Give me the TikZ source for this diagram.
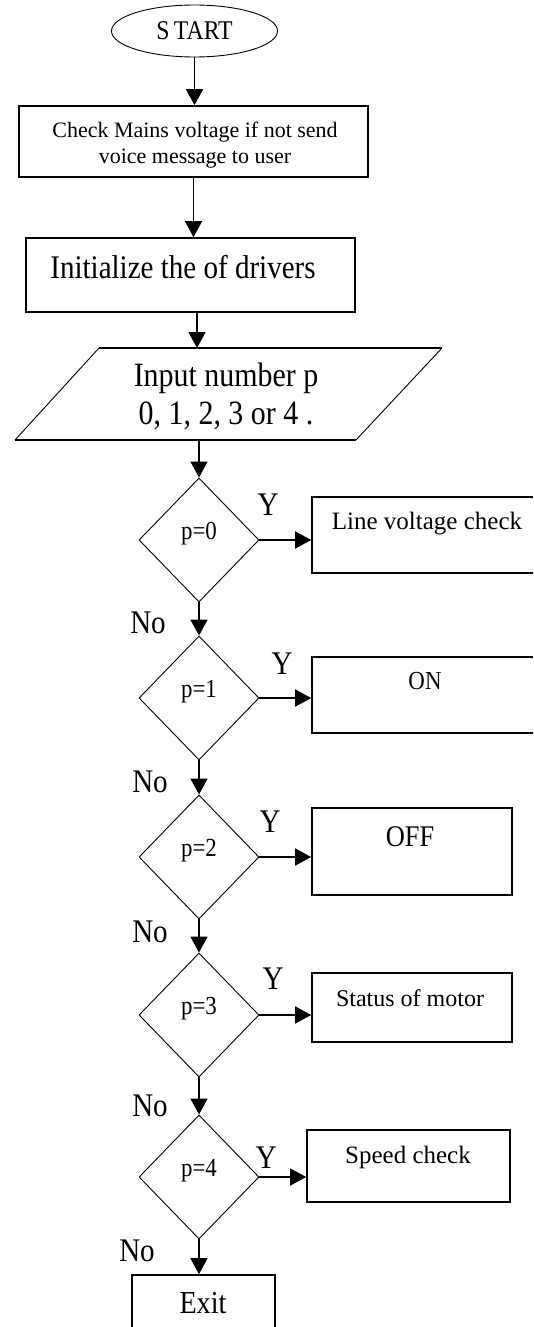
\documentclass[tikz,border=0pt]{standalone}
\usepackage{fontspec}
\setmainfont{Liberation Serif}
\newfontfamily\narrowserif{Liberation Serif}[FakeStretch=0.88]
\usetikzlibrary{shapes.geometric,arrows.meta}

\tikzset{
  flow/.style={-{Triangle[width=17pt,length=16pt]}, line width=1.6pt},
  procbox/.style={draw, line width=1.6pt, inner sep=0pt, anchor=center},
  decision/.style={draw, diamond, line width=0.9pt, inner sep=0pt,
    minimum width=120pt, minimum height=124pt, text depth=18pt,
    font=\narrowserif\fontsize{26}{30}\selectfont},
  lbl/.style={inner sep=0pt, anchor=center},
  big/.style={font=\narrowserif\fontsize{33}{38}\selectfont},
  mid/.style={font=\fontsize{24}{28}\selectfont},
}

\begin{document}
\begin{tikzpicture}[x=1pt, y=-1pt]
  \clip (0,0) rectangle (533,1327);
  \fill[white] (0,0) rectangle (533,1327);

  % terminal
  \node[draw, ellipse, line width=0.9pt, minimum width=166pt, minimum height=52pt,
        inner sep=0pt, font=\narrowserif\fontsize{27}{30}\selectfont] (start) at (194.5,31) {S\,TART};

  % mains check
  \node[procbox, minimum width=349pt, minimum height=71pt] (check) at (193.5,141.5) {};
  \node[lbl, align=center, font=\fontsize{22}{26}\selectfont] (checktxt) at (195,145)
    {Check Mains voltage if not send\\voice message to user};

  % driver initialisation
  \node[procbox, minimum width=329pt, minimum height=74pt] (init) at (190.5,275) {};
  \node[lbl, big] (inittxt) at (183,267) {Initialize the of drivers};

  % input (parallelogram)
  \coordinate (pin) at (197,348);
  \coordinate (pout) at (199,440);
  \draw[line width=0.9pt] (15,440) -- (99,348);
  \draw[line width=0.9pt] (442,348) -- (356,440);
  \draw[line width=1.6pt] (99,348) -- (442,348);
  \draw[line width=1.6pt] (15,440) -- (356,440);
  \node[lbl, align=center, font=\narrowserif\fontsize{34}{38}\selectfont] (input) at (226,396)
    {Input number p\\0, 1, 2, 3 or 4 .};

  % decisions
  \node[decision] (p0) at (199,540) {p=0};
  \node[decision] (p1) at (199,698) {p=1};
  \node[decision] (p2) at (199,857) {p=2};
  \node[decision] (p3) at (199,1015) {p=3};
  \node[decision] (p4) at (199,1177) {p=4};

  % actions
  \node[procbox, minimum width=233pt, minimum height=76pt] (lv) at (428.5,535) {};
  \node[lbl, font=\fontsize{25}{28}\selectfont] (lvtxt) at (427,524) {Line voltage check};
  \node[procbox, minimum width=233pt, minimum height=76pt] (on) at (428.5,695) {};
  \node[lbl, font=\narrowserif\fontsize{26}{30}\selectfont] (ontxt) at (425,681) {ON};
  \node[procbox, minimum width=200pt, minimum height=87pt] (off) at (412,851.5) {};
  \node[lbl, font=\narrowserif\fontsize{30}{34}\selectfont] (offtxt) at (410,837) {OFF};
  \node[procbox, minimum width=200pt, minimum height=69pt] (status) at (412,1007.5) {};
  \node[lbl, mid] (statustxt) at (410,998) {Status of motor};
  \node[procbox, minimum width=203pt, minimum height=72pt] (speed) at (408.5,1166) {};
  \node[lbl, font=\fontsize{25}{28}\selectfont] (speedtxt) at (408,1157) {Speed check};
  \node[procbox, minimum width=143pt, minimum height=70pt] (exit) at (203.5,1310) {};
  \node[lbl, font=\narrowserif\fontsize{32}{36}\selectfont] (exittxt) at (203,1303) {Exit};

  % main flow
  \draw[flow] (start.south) -- (start.south |- check.north);
  \draw[flow] (check.south) -- (check.south |- init.north);
  \draw[flow] (init.south -| pin) -- (pin);
  \draw[flow] (pout) -- (p0.north);
  \draw[flow] (p0.south) -- (p1.north);
  \draw[flow] (p1.south) -- (p2.north);
  \draw[flow] (p2.south) -- (p3.north);
  \draw[flow] (p3.south) -- (p4.north);
  \draw[flow] (p4.south) -- (p4.south |- exit.north);

  % yes branches
  \draw[flow] (p0.east) -- (p0.east -| lv.west);
  \draw[flow] (p1.east) -- (p1.east -| on.west);
  \draw[flow] (p2.east) -- (p2.east -| off.west);
  \draw[flow] (p3.east) -- (p3.east -| status.west);
  \draw[flow] (p4.east) -- (p4.east -| speed.west);

  % branch labels
  \node[lbl, big] (y0) at (268,505) {Y};
  \node[lbl, big] (y1) at (282,664) {Y};
  \node[lbl, big] (y2) at (270,822) {Y};
  \node[lbl, big] (y3) at (273,979) {Y};
  \node[lbl, big] (y4) at (266,1158) {Y};
  \node[lbl, big] (n0) at (148,623) {No};
  \node[lbl, big] (n1) at (150,782) {No};
  \node[lbl, big] (n2) at (150,932) {No};
  \node[lbl, big] (n3) at (150,1106) {No};
  \node[lbl, big] (n4) at (137,1251) {No};
\end{tikzpicture}
\end{document}
